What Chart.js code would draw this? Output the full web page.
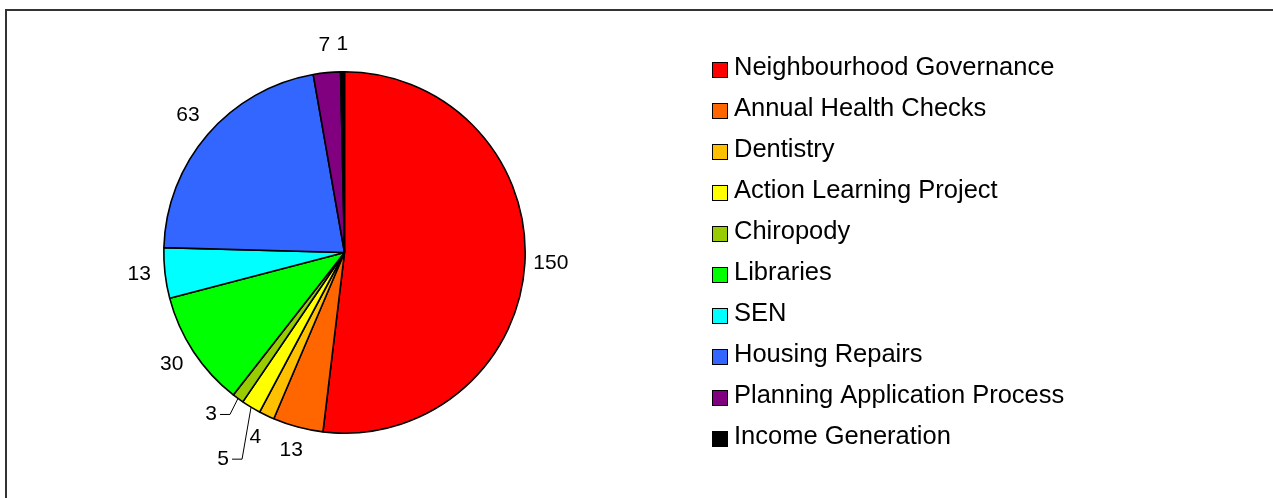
<!DOCTYPE html>
<html>
<head>
<meta charset="utf-8">
<script src="https://cdn.jsdelivr.net/npm/chart.js@4.4.0/dist/chart.umd.min.js"></script>
<style>
    html, body { margin: 0; padding: 0; background: #fff; overflow: hidden; }
    #frame {
        position: absolute; left: 5px; top: 9px; width: 1300px; height: 520px;
        border-left: 2px solid #333; border-top: 2px solid #333;
    }
    #chart { position: absolute; left: 0; top: 0; }
</style>
</head>
<body>
<div id="frame"></div>
<canvas id="chart" width="1273" height="498"></canvas>
<script>
// Data
const categories = [
    'Neighbourhood Governance',
    'Annual Health Checks',
    'Dentistry',
    'Action Learning Project',
    'Chiropody',
    'Libraries',
    'SEN',
    'Housing Repairs',
    'Planning Application Process',
    'Income Generation'
];
const counts = [150, 13, 4, 5, 3, 30, 13, 63, 7, 1];
const sliceColors = [
    '#ff0000', '#ff6600', '#ffc000', '#ffff00', '#99cc00',
    '#00ff00', '#00ffff', '#3366ff', '#800080', '#000000'
];

const FONT = '"Liberation Sans", Arial, sans-serif';

// labels that get pulled out with a leader line (offset from slice edge)
const leaderOffsets = { 3: [-28, 52], 4: [-27, 16] };

const valueLabels = {
    id: 'valueLabels',
    afterDatasetsDraw(chart) {
        const ctx = chart.ctx;
        const meta = chart.getDatasetMeta(0);
        ctx.save();
        ctx.font = '21px ' + FONT;
        ctx.fillStyle = '#000';
        ctx.strokeStyle = '#000';
        ctx.lineWidth = 1;
        ctx.textAlign = 'center';
        ctx.textBaseline = 'middle';
        meta.data.forEach((arc, i) => {
            const mid = (arc.startAngle + arc.endAngle) / 2;
            const r = arc.outerRadius;
            const txt = String(counts[i]);
            if (leaderOffsets[i]) {
                const ex = arc.x + r * Math.cos(mid);
                const ey = arc.y + r * Math.sin(mid);
                const lx = ex + leaderOffsets[i][0];
                const ly = ey + leaderOffsets[i][1];
                ctx.beginPath();
                ctx.moveTo(ex, ey);
                ctx.lineTo(lx + 19, ly);
                ctx.lineTo(lx + 9, ly);
                ctx.stroke();
                ctx.fillText(txt, lx, ly);
            } else {
                const R = r + 26;
                ctx.fillText(txt, arc.x + R * Math.cos(mid), arc.y + R * Math.sin(mid) - 2);
            }
        });
        ctx.restore();
    }
};

const sideLegend = {
    id: 'sideLegend',
    afterDraw(chart) {
        const ctx = chart.ctx;
        ctx.save();
        ctx.font = '25.5px ' + FONT;
        ctx.textAlign = 'left';
        ctx.textBaseline = 'alphabetic';
        chart.data.labels.forEach((label, i) => {
            const y = 62 + i * 41;
            ctx.fillStyle = sliceColors[i];
            ctx.fillRect(712.5, y + 0.5, 15, 15);
            ctx.strokeStyle = '#000';
            ctx.lineWidth = 1;
            ctx.strokeRect(712.5, y + 0.5, 15, 15);
            ctx.fillStyle = '#000';
            ctx.fillText(label, 734, y + 13);
        });
        ctx.restore();
    }
};

new Chart(document.getElementById('chart'), {
    type: 'pie',
    data: {
        labels: categories,
        datasets: [{
            data: counts,
            backgroundColor: sliceColors,
            borderColor: '#000',
            borderWidth: 1.6
        }]
    },
    options: {
        responsive: false,
        animation: false,
        devicePixelRatio: 1,
        layout: { padding: { left: 163, top: 71, right: 747, bottom: 64 } },
        plugins: {
            legend: { display: false },
            tooltip: { enabled: false }
        }
    },
    plugins: [valueLabels, sideLegend]
});
</script>
</body>
</html>
